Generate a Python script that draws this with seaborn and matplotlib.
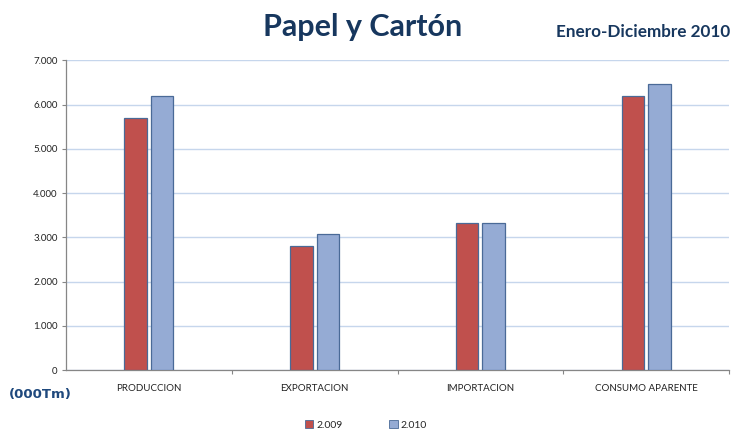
import matplotlib
matplotlib.use('Agg')
import matplotlib.pyplot as plt
from matplotlib.ticker import FuncFormatter, FixedLocator
from matplotlib.patches import Patch
import pandas as pd
import seaborn as sns

# data
categorias = ['PRODUCCION', 'EXPORTACION', 'IMPORTACION', 'CONSUMO APARENTE']
anios      = ['2.009', '2.010']
valores_2009 = [5690, 2810, 3316, 6200]
valores_2010 = [6200, 3067, 3316, 6458]

df = pd.DataFrame({
    'categoria' : categorias * 2
    , 'anio'    : [anios[0]] * 4 + [anios[1]] * 4
    , 'valor'   : valores_2009 + valores_2010
})

colores = {'2.009': '#C0504D', '2.010': '#95ABD4'}
azul_oscuro = '#17375E'

sns.set_theme(style='white')
plt.rcParams['font.family'] = ['Lato', 'DejaVu Sans']

fig = plt.figure(figsize=(7.32, 4.30), dpi=100)
ax = fig.add_axes([66 / 732, 1 - 370 / 430, 663 / 732, 309.7 / 430])

sns.barplot(data=df, x='categoria', y='valor', hue='anio', palette=colores,
            saturation=1, width=0.32, gap=0.15, edgecolor='#4A6A97', linewidth=0.9,
            ax=ax, legend=False, zorder=3)

ax.set_ylim(0, 7000)
ax.set_xlim(-0.5, 3.5)
ax.set_yticks(range(0, 7001, 1000))
ax.yaxis.set_major_formatter(FuncFormatter(lambda v, p: f'{int(v):,}'.replace(',', '.')))
ax.grid(axis='y', color='#C6D6EC', linewidth=1, zorder=0)
ax.set_axisbelow(True)
ax.set_xlabel('')
ax.set_ylabel('')

for s in ['top', 'right']:
    ax.spines[s].set_visible(False)
for s in ['left', 'bottom']:
    ax.spines[s].set_color('#868686')
    ax.spines[s].set_linewidth(0.9)

ax.tick_params(axis='y', labelsize=7, length=3, width=0.8, direction='out',
               left=True, pad=3, colors='#868686', labelcolor='#222222')
ax.tick_params(axis='x', which='major', labelsize=7, length=0, pad=10, labelcolor='#222222')
ax.xaxis.set_minor_locator(FixedLocator([0.5, 1.5, 2.5, 3.5]))
ax.tick_params(axis='x', which='minor', length=3, width=0.8, color='#868686', bottom=True)

fig.text(0.495, 0.937, 'Papel y Cartón', ha='center', va='center',
         fontsize=22, fontweight='bold', color=azul_oscuro)
fig.text(0.997, 0.925, 'Enero-Diciembre 2010', ha='right', va='center',
         fontsize=12.3, fontweight='bold', color=azul_oscuro)
fig.text(0.012, 0.082, '(000Tm)', ha='left', va='center', family='DejaVu Sans',
         fontsize=9.5, fontweight='bold', color='#1F497D')

handles = [Patch(facecolor=colores[a], edgecolor='#4A6A97', linewidth=0.6, label=a) for a in anios]
fig.legend(handles=handles, loc='center', bbox_to_anchor=(0.5, 0.012), ncol=2,
           frameon=False, fontsize=7.5, handlelength=0.8, handleheight=0.8,
           handletextpad=0.3, columnspacing=4.5)

fig.savefig('out.png', dpi=100)
plt.close(fig)
